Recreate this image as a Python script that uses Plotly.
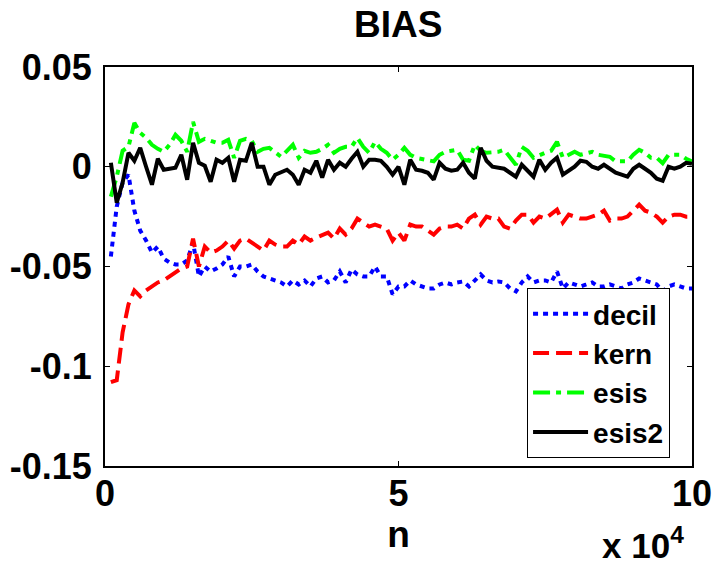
import plotly.graph_objects as go

n_thousands = list(range(1, 101))
n_values = [k * 1000 for k in n_thousands]

decil = [
    -0.045, -0.020, -0.008, -0.004, -0.022, -0.032, -0.037, -0.043, -0.040, -0.046,
    -0.048, -0.049, -0.049, -0.047, -0.038, -0.055, -0.050, -0.0525, -0.051, -0.049,
    -0.045, -0.055, -0.050, -0.050, -0.049, -0.0525, -0.055, -0.056, -0.057, -0.058,
    -0.060, -0.057, -0.059, -0.057, -0.060, -0.056, -0.055, -0.058, -0.057, -0.0525,
    -0.058, -0.0515, -0.054, -0.055, -0.055, -0.050, -0.055, -0.055, -0.064, -0.060,
    -0.060, -0.057, -0.059, -0.060, -0.061, -0.061, -0.059, -0.058, -0.059, -0.058,
    -0.0575, -0.060, -0.057, -0.054, -0.057, -0.058, -0.0575, -0.058, -0.061, -0.0625,
    -0.058, -0.055, -0.058, -0.057, -0.057, -0.058, -0.0525, -0.061, -0.058, -0.059,
    -0.060, -0.059, -0.058, -0.060, -0.060, -0.059, -0.060, -0.061, -0.059, -0.058,
    -0.056, -0.057, -0.058, -0.059, -0.0625, -0.060, -0.059, -0.060, -0.061, -0.061,
]

kern = [
    -0.108, -0.107, -0.083, -0.069, -0.062, -0.065, -0.062, -0.060, -0.058, -0.057,
    -0.055, -0.053, -0.051, -0.050, -0.036, -0.050, -0.040, -0.043, -0.042, -0.040,
    -0.037, -0.041, -0.037, -0.036, -0.038, -0.040, -0.042, -0.037, -0.039, -0.040,
    -0.040, -0.037, -0.039, -0.035, -0.037, -0.0355, -0.034, -0.033, -0.036, -0.031,
    -0.034, -0.031, -0.026, -0.028, -0.030, -0.029, -0.030, -0.031, -0.037, -0.033,
    -0.037, -0.029, -0.030, -0.030, -0.032, -0.034, -0.031, -0.030, -0.030, -0.029,
    -0.031, -0.026, -0.024, -0.029, -0.025, -0.026, -0.026, -0.030, -0.031, -0.027,
    -0.024, -0.024, -0.028, -0.025, -0.026, -0.024, -0.0215, -0.028, -0.024, -0.025,
    -0.026, -0.026, -0.025, -0.024, -0.022, -0.027, -0.026, -0.026, -0.025, -0.022,
    -0.019, -0.022, -0.023, -0.025, -0.028, -0.025, -0.024, -0.024, -0.025, -0.025,
]

esis = [
    -0.015, -0.005, 0.008, 0.010, 0.022, 0.017, 0.0145, 0.011, 0.009, 0.0075,
    0.011, 0.016, 0.013, 0.0075, 0.0225, 0.0125, 0.014, 0.013, 0.012, 0.012,
    0.0135, 0.0045, 0.013, 0.014, 0.013, 0.0075, 0.009, 0.0095, 0.007, 0.005,
    0.008, 0.011, 0.0045, 0.008, 0.007, 0.0075, 0.009, 0.011, 0.007, 0.009,
    0.010, 0.010, 0.0145, 0.010, 0.007, 0.0125, 0.009, 0.007, 0.0035, 0.006,
    0.0095, 0.006, 0.0045, 0.004, 0.0035, 0.0027, 0.006, 0.0075, 0.008, 0.0085,
    0.0035, 0.003, 0.011, 0.008, 0.007, 0.007, 0.0075, 0.0085, 0.0045, 0.001,
    0.010, 0.008, 0.0045, 0.006, 0.007, 0.008, 0.0125, 0.0045, 0.006, 0.0075,
    0.006, 0.007, 0.0075, 0.006, 0.0055, 0.005, 0.0027, 0.0025, 0.0027, 0.006,
    0.0085, 0.007, 0.0045, 0.0045, 0.0018, 0.006, 0.006, 0.006, 0.004, 0.0027,
]

esis2 = [
    0.002, -0.018, -0.008, 0.007, 0.003, 0.0095, 0.000, -0.009, 0.004, -0.0015,
    -0.001, -0.0005, 0.006, -0.0065, 0.012, 0.002, 0.0005, -0.0075, 0.0035, 0.002,
    0.0045, -0.0075, 0.0035, 0.003, 0.012, 0.000, 0.000, -0.009, -0.004, -0.003,
    -0.0015, -0.004, -0.009, -0.0015, -0.003, 0.003, -0.0055, 0.0035, -0.0015, 0.002,
    0.000, 0.004, 0.0075, 0.000, 0.0035, 0.0035, 0.003, 0.000, -0.004, 0.000,
    -0.009, 0.0035, -0.0015, -0.002, -0.003, -0.0065, 0.002, -0.001, -0.002, -0.0015,
    0.002, -0.003, -0.006, 0.0095, 0.003, 0.000, -0.0005, -0.001, -0.003, -0.005,
    0.001, -0.002, -0.005, 0.0035, -0.0015, 0.002, 0.0045, -0.004, -0.002, 0.000,
    0.003, 0.0025, 0.000, -0.001, 0.001, -0.001, -0.003, -0.004, -0.005, -0.001,
    0.001, -0.001, -0.003, -0.006, -0.007, 0.000, -0.001, 0.000, 0.002, 0.0015,
]

y_tick_vals = [0.05, 0, -0.05, -0.1, -0.15]
y_tick_text = ["0.05", "0", "-0.05", "-0.1", "-0.15"]
x_tick_vals = [0, 50000, 100000]
x_tick_text = ["0", "5", "10"]

FONT = "Liberation Sans, Arial, sans-serif"

fig = go.Figure()
series = [
    ("decil", decil, "rgb(0,0,255)", "5px,5px"),
    ("kern", kern, "rgb(255,0,0)", "16px,7px"),
    ("esis", esis, "rgb(0,255,0)", "17px,6px,5px,6px"),
    ("esis2", esis2, "rgb(0,0,0)", "solid"),
]
for name, vals, color, dash in series:
    fig.add_trace(go.Scatter(
        x=n_values, y=vals, mode="lines", name=name,
        line=dict(color=color, width=4, dash=dash),
    ))

axis_common = dict(
    showline=True, linecolor="black", linewidth=2, mirror="allticks",
    ticks="inside", ticklen=5, tickwidth=1, tickcolor="black",
    showgrid=False, zeroline=False, automargin=False,
    tickfont=dict(family=FONT, size=36, color="black", weight="bold"),
)

fig.update_layout(
    width=713, height=567,
    margin=dict(l=105, r=21, t=67, b=101),
    paper_bgcolor="white", plot_bgcolor="white",
    title=dict(text="<b>BIAS</b>", x=0.5585, xanchor="center", y=0.958, yanchor="middle",
               font=dict(family=FONT, size=37, color="black")),
    xaxis=dict(range=[0, 100000], tickvals=x_tick_vals, ticktext=x_tick_text,
               ticklabelstandoff=-5,
               title=dict(text="<b>n</b>", standoff=0,
                          font=dict(family=FONT, size=37, color="black")),
               **axis_common),
    yaxis=dict(range=[-0.15, 0.05], tickvals=y_tick_vals, ticktext=y_tick_text,
               ticklabelstandoff=4, **axis_common),
    legend=dict(x=0.719, y=0.02, xanchor="left", yanchor="bottom",
                bordercolor="black", borderwidth=1, bgcolor="white",
                font=dict(family=FONT, size=28, color="black", weight="bold"),
                itemwidth=55, tracegroupgap=0),
    showlegend=True,
)

fig.add_annotation(
    text="<b>x 10<sup>4</sup></b>", xref="paper", yref="paper",
    x=0.99, y=-0.252, xanchor="right", yanchor="bottom", showarrow=False,
    font=dict(family=FONT, size=35, color="black"),
)

fig.write_html("out.html")
